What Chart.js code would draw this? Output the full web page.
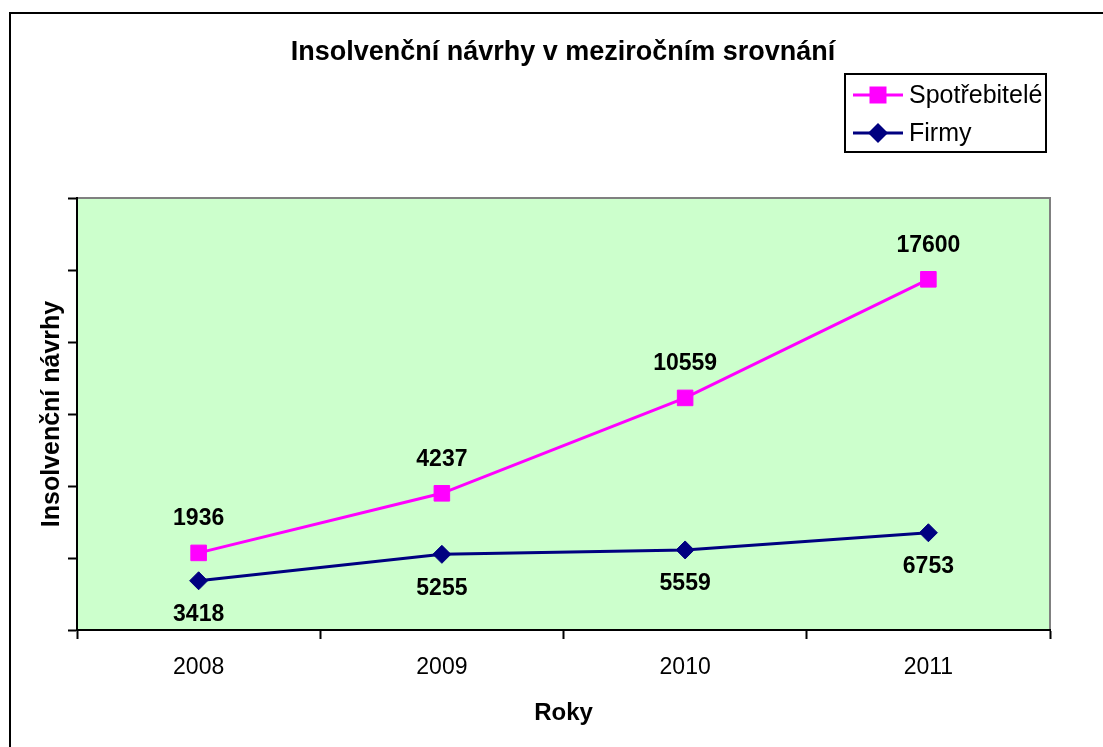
<!DOCTYPE html>
<html>
<head>
<meta charset="utf-8">
<script src="https://cdn.jsdelivr.net/npm/chart.js@4/dist/chart.umd.min.js"></script>
<style>
  html, body { margin: 0; padding: 0; background: #ffffff; }
  #wrap { position: relative; width: 1103px; height: 747px; }
  canvas { display: block; }
</style>
</head>
<body>
<div id="wrap"><canvas id="c" width="1103" height="747"></canvas></div>
<script>
// ---- data ----
const years = ['2008', '2009', '2010', '2011'];
const spotrebitele = [1936, 4237, 10559, 17600];
const firmy = [3418, 5255, 5559, 6753];
const seriesNames = ['Spotřebitelé', 'Firmy'];
const yMin = 0;
const yMax = 30000;
const yStep = 5000;
const chartTitle = 'Insolvenční návrhy v meziročním srovnání';
const yTitle = 'Insolvenční návrhy';
const xTitle = 'Roky';

const FONT = '"Liberation Sans", Arial, Helvetica, sans-serif';
const PINK = '#FF00FF';
const NAVY = '#000080';

// frame + plot background
const backgroundPlugin = {
  id: 'bg',
  beforeDraw(chart) {
    const ctx = chart.ctx;
    const a = chart.chartArea;
    ctx.save();
    ctx.fillStyle = '#ffffff';
    ctx.fillRect(0, 0, chart.width, chart.height);
    ctx.strokeStyle = '#000000';
    ctx.lineWidth = 2;
    ctx.strokeRect(10, 13, 1300, 1000);
    ctx.fillStyle = '#CCFFCC';
    ctx.fillRect(a.left, a.top, a.right - a.left, a.bottom - a.top);
    ctx.strokeStyle = '#808080';
    ctx.lineWidth = 2;
    ctx.strokeRect(a.left, a.top, a.right - a.left, a.bottom - a.top);
    // chart title
    ctx.fillStyle = '#000000';
    ctx.font = 'bold 27px ' + FONT;
    ctx.textAlign = 'center';
    ctx.textBaseline = 'middle';
    ctx.fillText(chartTitle, 563, 53);
    ctx.restore();
  }
};

// value labels
const labelPlugin = {
  id: 'vlabels',
  afterDatasetsDraw(chart) {
    const ctx = chart.ctx;
    ctx.save();
    ctx.font = 'bold 23px ' + FONT;
    ctx.fillStyle = '#000000';
    ctx.textAlign = 'center';
    ctx.textBaseline = 'middle';
    chart.data.datasets.forEach((ds, di) => {
      const meta = chart.getDatasetMeta(di);
      const off = ds.labelOffset;
      meta.data.forEach((pt, i) => {
        ctx.fillText(String(ds.rawValues[i]), pt.x, pt.y + off);
      });
    });
    ctx.restore();
  }
};

// legend box
const legendPlugin = {
  id: 'boxLegend',
  afterDraw(chart) {
    const ctx = chart.ctx;
    ctx.save();
    ctx.strokeStyle = '#000000';
    ctx.lineWidth = 2;
    ctx.strokeRect(845, 74, 201, 78);
    const rows = [
      { ds: chart.data.datasets[1], y: 95 },
      { ds: chart.data.datasets[0], y: 133 }
    ];
    rows.forEach(r => {
      ctx.strokeStyle = r.ds.borderColor;
      ctx.lineWidth = 3;
      ctx.beginPath();
      ctx.moveTo(853, r.y);
      ctx.lineTo(903, r.y);
      ctx.stroke();
      ctx.fillStyle = r.ds.borderColor;
      ctx.beginPath();
      if (r.ds.pointStyle === 'rect') {
        ctx.rect(869.5, r.y - 8.5, 17, 17);
      } else {
        ctx.moveTo(878, r.y - 10);
        ctx.lineTo(888, r.y);
        ctx.lineTo(878, r.y + 10);
        ctx.lineTo(868, r.y);
        ctx.closePath();
      }
      ctx.fill();
      ctx.fillStyle = '#000000';
      ctx.font = '25px ' + FONT;
      ctx.textAlign = 'left';
      ctx.textBaseline = 'middle';
      ctx.fillText(r.ds.label, 909, r.y + 1);
    });
    ctx.restore();
  }
};

new Chart(document.getElementById('c'), {
  type: 'line',
  data: {
    labels: years,
    datasets: [
      {
        label: seriesNames[1],
        data: firmy,
        rawValues: firmy,
        labelOffset: 34,
        borderColor: NAVY,
        backgroundColor: NAVY,
        borderWidth: 3,
        pointStyle: 'rectRot',
        pointRadius: 9,
        pointBorderWidth: 1,
        pointBackgroundColor: NAVY,
        pointBorderColor: NAVY,
        fill: false,
        tension: 0
      },
      {
        label: seriesNames[0],
        data: spotrebitele,
        rawValues: spotrebitele,
        labelOffset: -34,
        borderColor: PINK,
        backgroundColor: PINK,
        borderWidth: 3,
        pointStyle: 'rect',
        pointRadius: 11,
        pointBorderWidth: 1,
        pointBackgroundColor: PINK,
        pointBorderColor: PINK,
        fill: false,
        tension: 0
      }
    ]
  },
  options: {
    responsive: false,
    animation: false,
    layout: { padding: { left: 20, right: 53, top: 198, bottom: 10 } },
    plugins: {
      legend: { display: false },
      tooltip: { enabled: false },
      title: { display: false }
    },
    scales: {
      x: {
        type: 'category',
        offset: true,
        grid: {
          display: true,
          offset: true,
          drawOnChartArea: false,
          drawTicks: true,
          tickLength: 9,
          tickWidth: 2,
          tickColor: '#000000',
          color: '#000000'
        },
        border: { display: true, color: '#000000', width: 2 },
        ticks: {
          color: '#000000',
          padding: 15,
          font: { family: FONT, size: 23 }
        },
        title: {
          display: true,
          text: xTitle,
          color: '#000000',
          font: { family: FONT, size: 24, weight: 'bold' },
          padding: { top: 0, bottom: 9.6 }
        },
        afterFit(scale) { scale.height = 107; }
      },
      y: {
        stacked: true,
        min: yMin,
        max: yMax,
        grid: {
          display: true,
          drawOnChartArea: false,
          drawTicks: true,
          tickLength: 9,
          tickWidth: 2,
          tickColor: '#000000',
          color: '#000000'
        },
        border: { display: true, color: '#000000', width: 2 },
        ticks: { display: false, stepSize: yStep },
        title: {
          display: true,
          text: yTitle,
          color: '#000000',
          font: { family: FONT, size: 25, weight: 'bold' },
          padding: { top: 17.5, bottom: 0 }
        },
        afterFit(scale) { scale.width = 57; }
      }
    }
  },
  plugins: [backgroundPlugin, labelPlugin, legendPlugin]
});
</script>
</body>
</html>
